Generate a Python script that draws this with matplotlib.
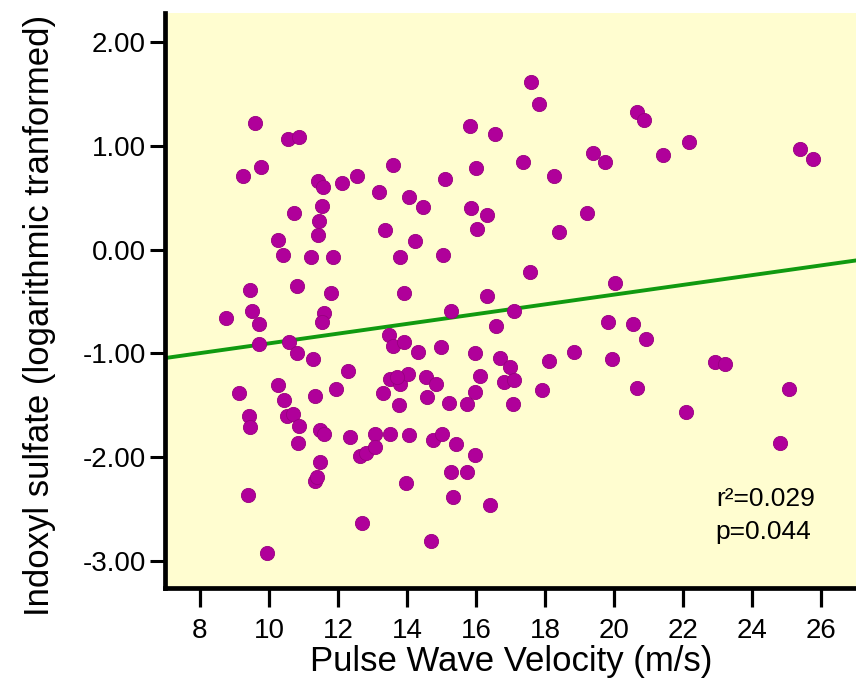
import matplotlib
matplotlib.use("Agg")
import matplotlib.pyplot as plt

plt.rcParams['axes.unicode_minus'] = False
plt.rcParams['font.family'] = ['Liberation Sans', 'DejaVu Sans']

# Pulse wave velocity (m/s)
pwv = [9.59, 10.56, 10.86, 15.83, 16.55, 9.24, 9.78, 13.60, 11.43, 11.56,
       12.11, 12.55, 13.19, 14.04, 14.47, 15.09, 15.98, 15.86, 16.31, 16.01,
       10.73, 11.54, 11.46, 11.43, 13.37, 14.23, 10.25, 10.41, 11.22, 11.86,
       13.80, 15.04, 9.44, 10.81, 11.79, 13.92, 16.31, 17.59, 17.83, 20.66,
       20.87, 22.15, 21.41, 25.37, 25.75, 17.35, 18.24, 19.37, 19.74, 19.21,
       18.39, 17.57, 20.01, 8.75, 9.52, 9.72, 9.72, 11.59, 11.54, 15.26,
       10.57, 10.80, 11.26, 13.47, 13.58, 13.92, 14.32, 14.97, 15.97, 16.58,
       16.70, 16.99, 12.30, 9.13, 10.27, 10.44, 11.33, 11.94, 13.31, 13.51,
       13.80, 14.02, 13.70, 13.75, 14.54, 14.84, 14.57, 15.20, 15.74, 15.97,
       16.10, 16.80, 17.09, 17.06, 9.41, 9.44, 10.51, 10.70, 10.86, 10.85,
       11.48, 11.59, 12.34, 13.07, 13.49, 14.04, 14.76, 15.02, 15.41, 12.64,
       12.80, 13.07, 15.97, 11.49, 11.32, 11.38, 15.28, 15.74, 9.40, 13.97,
       15.33, 16.41, 12.68, 14.69, 9.93, 17.10, 19.83, 20.54, 20.93, 18.10,
       18.84, 19.93, 17.90, 20.66, 22.93, 23.22, 25.05, 22.08, 24.81]

# Indoxyl sulfate (log transformed)
indoxyl = [1.22, 1.07, 1.09, 1.19, 1.11, 0.71, 0.80, 0.82, 0.66, 0.60,
           0.64, 0.71, 0.56, 0.51, 0.41, 0.68, 0.79, 0.40, 0.33, 0.20,
           0.35, 0.42, 0.28, 0.14, 0.19, 0.08, 0.09, -0.05, -0.07, -0.07,
           -0.07, -0.05, -0.39, -0.35, -0.42, -0.42, -0.45, 1.62, 1.40, 1.33,
           1.25, 1.04, 0.91, 0.97, 0.87, 0.84, 0.71, 0.93, 0.84, 0.35,
           0.17, -0.22, -0.32, -0.66, -0.59, -0.72, -0.91, -0.61, -0.70, -0.59,
           -0.89, -1.00, -1.05, -0.82, -0.93, -0.89, -0.99, -0.94, -1.00, -0.74,
           -1.04, -1.13, -1.17, -1.38, -1.30, -1.45, -1.41, -1.34, -1.38, -1.25,
           -1.29, -1.20, -1.23, -1.50, -1.23, -1.29, -1.42, -1.48, -1.49, -1.37,
           -1.22, -1.28, -1.26, -1.49, -1.60, -1.71, -1.60, -1.58, -1.70, -1.86,
           -1.74, -1.78, -1.81, -1.78, -1.78, -1.79, -1.83, -1.78, -1.87, -1.99,
           -1.96, -1.90, -1.98, -2.05, -2.23, -2.19, -2.14, -2.14, -2.36, -2.25,
           -2.38, -2.46, -2.63, -2.81, -2.92, -0.59, -0.70, -0.72, -0.86, -1.07,
           -0.99, -1.05, -1.35, -1.33, -1.08, -1.10, -1.34, -1.56, -1.86]

# Regression line
fit_intercept = -1.373
fit_slope = 0.047
fit_range = [7.0, 27.0]

x_ticks = [8, 10, 12, 14, 16, 18, 20, 22, 24, 26]
y_ticks = [2.0, 1.0, 0.0, -1.0, -2.0, -3.0]
stats_text = "r\u00b2=0.029\np=0.044"

fig = plt.figure(figsize=(8.56, 6.81), dpi=100)
ax = fig.add_axes([0.1933, 0.1366, 0.8067, 0.845])
ax.set_facecolor('#FFFDD0')

ax.scatter(pwv, indoxyl, s=105, facecolor='#B0009A', edgecolor='#98007F',
           linewidth=0.6, zorder=3)
fit_y = [fit_intercept + fit_slope * v for v in fit_range]
ax.plot(fit_range, fit_y, color='#109A10', linewidth=2.8, zorder=2)

ax.set_xlim(7.0, 27.0)
ax.set_ylim(-3.26, 2.285)

for side in ['top', 'right']:
    ax.spines[side].set_visible(False)
for side in ['left', 'bottom']:
    ax.spines[side].set_linewidth(3.4)
    ax.spines[side].set_color('black')

ax.set_yticks(y_ticks)
ax.set_yticklabels([f"{v:.2f}" for v in y_ticks], fontsize=20)
ax.tick_params(axis='y', direction='out', length=11, width=2.2, pad=3)

ax.set_xticks(x_ticks)
ax.set_xticklabels([str(v) for v in x_ticks], fontsize=20)
ax.tick_params(axis='x', direction='out', length=13.5, width=2.3, pad=8)

ax.set_xlabel("Pulse Wave Velocity (m/s)", fontsize=25, labelpad=1)
ax.set_ylabel("Indoxyl sulfate (logarithmic tranformed)", fontsize=25)
ax.yaxis.set_label_coords(-0.158, 0.474)

ax.text(0.797, 0.176, stats_text, transform=ax.transAxes, fontsize=19,
        va='top', ha='left', linespacing=1.5)

fig.savefig('out.png', dpi=100)
